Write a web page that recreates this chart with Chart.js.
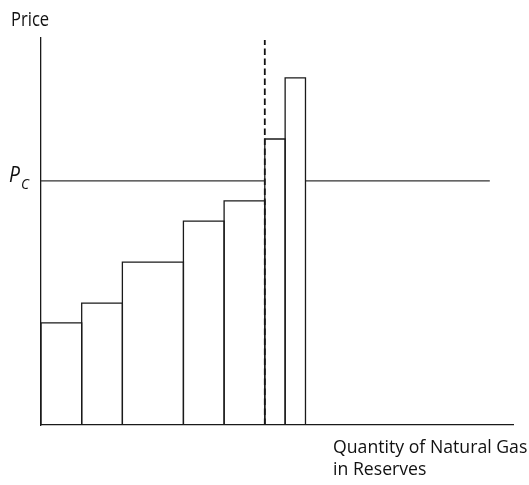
<!DOCTYPE html>
<html lang="en">
<head>
    <meta charset="UTF-8">
    <title>Natural Gas Reserves</title>
    <script src="https://cdn.jsdelivr.net/npm/chart.js"></script>
    <style>
        body {
            margin: 0;
            background-color: white;
        }
        #chartContainer {
            width: 529px;
            height: 485px;
        }
    </style>
</head>
<body>

    <div id="chartContainer">
        <canvas id="gasChart"></canvas>
    </div>

    <script>
        // each reserve block: width in quantity units, price height
        const blockWidths = [2, 2, 3, 2, 2, 1, 1];
        const blockPrices = [26.4, 31.5, 42.1, 52.7, 57.9, 73.9, 89.7];

        const priceCutoff = 63.1;          // P_C
        const cutoffQuantity = 11;         // dashed line position
        const dashedTop = 99.5;
        const pcRightStart = 13;
        const pcRightEnd = 22.06;

        const xMax = 23.2;
        const yMax = 100;

        const yLabel = 'Price';
        const xLabel = ['Quantity of Natural Gas', 'in Reserves'];

        const lineColor = '#1a1a1a';
        const fontFamily = '"Open Sans", sans-serif';

        // build one outline per block
        const datasets = [];
        let q = 0;
        blockWidths.forEach((w, i) => {
            const h = blockPrices[i];
            datasets.push({
                data: [
                    {x: q, y: 0},
                    {x: q, y: h},
                    {x: q + w, y: h},
                    {x: q + w, y: 0}
                ],
                borderColor: lineColor,
                borderWidth: 1.3,
                pointRadius: 0,
                fill: false
            });
            q += w;
        });

        // P_C horizontal line, broken where the tall blocks sit
        datasets.push({
            data: [
                {x: 0, y: priceCutoff},
                {x: cutoffQuantity, y: priceCutoff},
                {x: (cutoffQuantity + pcRightStart) / 2, y: null},
                {x: pcRightStart, y: priceCutoff},
                {x: pcRightEnd, y: priceCutoff}
            ],
            borderColor: '#333',
            borderWidth: 1.3,
            pointRadius: 0,
            spanGaps: false,
            fill: false
        });

        // dashed cutoff line
        datasets.push({
            data: [
                {x: cutoffQuantity, y: 0},
                {x: cutoffQuantity, y: dashedTop}
            ],
            borderColor: '#111',
            borderWidth: 1.8,
            borderDash: [6.5, 3.5],
            pointRadius: 0,
            fill: false
        });

        // the original labels use a narrow face, so squeeze horizontally
        function drawNarrow(ctx, text, x, y, font, sx) {
            ctx.save();
            ctx.translate(x, y);
            ctx.scale(sx, 1);
            ctx.font = font;
            ctx.fillText(text, 0, 0);
            ctx.restore();
        }

        const labelPlugin = {
            id: 'labels',
            afterDraw(chart) {
                const ctx = chart.ctx;
                const y = chart.scales.y;
                ctx.save();
                ctx.fillStyle = '#111';
                ctx.textBaseline = 'alphabetic';
                ctx.textAlign = 'left';

                drawNarrow(ctx, yLabel, 11, 26, '19.5px ' + fontFamily, 0.85);

                drawNarrow(ctx, xLabel[0], 333, 453, '19px ' + fontFamily, 0.93);
                drawNarrow(ctx, xLabel[1], 333, 475, '19px ' + fontFamily, 0.93);

                // P_C
                const pcY = y.getPixelForValue(priceCutoff);
                drawNarrow(ctx, 'P', 9, pcY + 1, 'italic 21px ' + fontFamily, 0.92);
                drawNarrow(ctx, 'C', 21, pcY + 8, 'italic 15px ' + fontFamily, 0.92);
                ctx.restore();
            }
        };

        new Chart(document.getElementById('gasChart'), {
            type: 'line',
            data: {datasets: datasets},
            options: {
                responsive: true,
                maintainAspectRatio: false,
                animation: false,
                clip: false,
                layout: {
                    padding: {left: 33, top: 38, right: 16, bottom: 52}
                },
                plugins: {
                    legend: {display: false},
                    tooltip: {enabled: false}
                },
                scales: {
                    x: {
                        type: 'linear',
                        min: 0,
                        max: xMax,
                        grid: {display: false},
                        ticks: {display: false},
                        border: {color: lineColor, width: 1.3}
                    },
                    y: {
                        min: 0,
                        max: yMax,
                        grid: {display: false},
                        ticks: {display: false},
                        border: {color: lineColor, width: 1.3}
                    }
                }
            },
            plugins: [labelPlugin]
        });
    </script>
</body>
</html>
